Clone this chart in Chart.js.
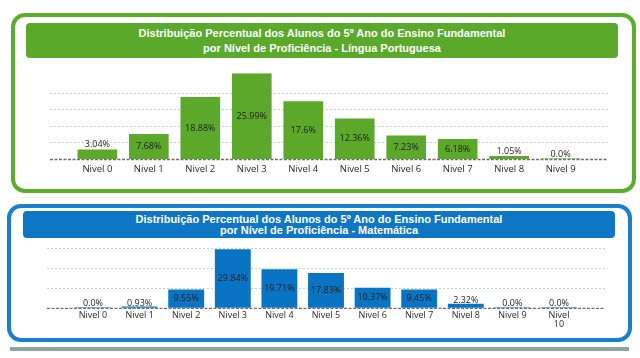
<!DOCTYPE html>
<html>
<head>
<meta charset="utf-8">
<script src="https://cdn.jsdelivr.net/npm/chart.js@4.4.0/dist/chart.umd.min.js"></script>
<style>
  html, body { margin:0; padding:0; background:#fff; }
  body { width:640px; height:358px; position:relative; overflow:hidden; }
  .box { position:absolute; box-sizing:border-box; border-radius:14px; background:#fff; }
  .banner { position:absolute; box-sizing:border-box; border-radius:4px; color:#fff;
            font-family:"Liberation Sans", Arial, sans-serif; font-weight:bold; font-size:11px;
            text-align:center; display:flex; flex-direction:column; justify-content:center; }
  canvas { position:absolute; left:0; }
</style>
</head>
<body>
<div class="box" style="left:11px;top:13px;width:625px;height:180px;border:4.5px solid #5dad2d;"></div>
<div class="banner" style="left:26px;top:23px;width:592px;height:35px;background:#5ba92b;line-height:15px;">
  <div>Distribuição Percentual dos Alunos do 5º Ano do Ensino Fundamental</div>
  <div>por Nível de Proficiência - Língua Portuguesa</div>
</div>
<div style="position:absolute;left:20px;top:197px;width:600px;height:0;border-top:1px dotted #dfe6ea;"></div>
<div class="box" style="left:7px;top:204px;width:625px;height:138px;border:4.5px solid #1a7fcf;"></div>
<div class="banner" style="left:23px;top:211px;width:592px;height:27px;background:#0f76c6;line-height:11px;">
  <div>Distribuição Percentual dos Alunos do 5º Ano do Ensino Fundamental</div>
  <div>por Nível de Proficiência - Matemática</div>
</div>
<div style="position:absolute;left:10px;top:347px;width:619px;height:4px;background:#8fa4a4;"></div>

<canvas id="c1" width="640" height="190" style="top:0px;"></canvas>
<canvas id="c2" width="640" height="147" style="top:195px;"></canvas>

<script>
// ---- Data ----
const portCategories = ["Nivel 0","Nivel 1","Nivel 2","Nivel 3","Nivel 4","Nivel 5","Nivel 6","Nivel 7","Nivel 8","Nivel 9"];
const portValues = [3.04, 7.68, 18.88, 25.99, 17.6, 12.36, 7.23, 6.18, 1.05, 0.0];

const matCategories = ["Nivel 0","Nivel 1","Nivel 2","Nivel 3","Nivel 4","Nivel 5","Nivel 6","Nivel 7","Nivel 8","Nivel 9",["Nivel","10"]];
const matValues = [0.0, 0.93, 9.55, 29.84, 19.71, 17.83, 10.37, 9.45, 2.32, 0.0, 0.0];

const portGridStep = 5;
const matGridStep = 10;

function fmt(v) { return Number.isInteger(v) ? v.toFixed(1) + "%" : String(v) + "%"; }

function makeChart(id, cats, vals, opt) {
  const labelsPlugin = {
    id: 'valueLabels',
    beforeDatasetsDraw(chart) {
      const ctx = chart.ctx, y = chart.scales.y, a = chart.chartArea;
      const py = y.getPixelForValue(0);
      ctx.save();
      ctx.strokeStyle = '#6f6f6f';
      ctx.lineWidth = 1.3;
      ctx.setLineDash([3, 1.5]);
      ctx.beginPath();
      ctx.moveTo(a.left, py); ctx.lineTo(a.right, py);
      ctx.stroke();
      ctx.restore();
    },
    afterDatasetsDraw(chart) {
      const ctx = chart.ctx;
      const meta = chart.getDatasetMeta(0);
      ctx.save();
      ctx.font = opt.labelFont;
      ctx.fillStyle = '#1e1e1e';
      ctx.textAlign = 'center';
      meta.data.forEach((bar, i) => {
        const h = bar.base - bar.y;
        const t = fmt(vals[i]);
        if (h > 14) {
          ctx.textBaseline = 'middle';
          ctx.fillText(t, bar.x, (bar.y + bar.base) / 2);
        } else {
          ctx.textBaseline = 'bottom';
          ctx.fillText(t, bar.x, bar.y + opt.aboveShift);
        }
      });
      ctx.restore();
    }
  };
  return new Chart(document.getElementById(id), {
    type: 'bar',
    data: {
      datasets: [{
        data: vals.map((v, i) => ({ x: i, y: v })),
        backgroundColor: opt.color,
        borderWidth: 0,
        minBarLength: 1,
        barPercentage: 0.77,
        categoryPercentage: 1
      }]
    },
    options: {
      responsive: false,
      animation: false,
      layout: { padding: { top: opt.padTop, left: opt.left, right: 640 - opt.right, bottom: 0 } },
      plugins: { legend: { display: false }, tooltip: { enabled: false } },
      scales: {
        x: {
          type: 'linear',
          offset: false,
          min: -0.5 - opt.pad,
          max: cats.length - 0.5 + opt.pad,
          afterBuildTicks: s => { s.ticks = cats.map((c, i) => ({ value: i })); },
          afterFit: s => { s.height = opt.xHeight; },
          grid: { display: false, drawTicks: false, offset: false },
          border: { display: false },
          ticks: {
            autoSkip: false, maxRotation: 0, padding: opt.tickPad,
            color: '#2a2a2a',
            font: { family: 'Open Sans', size: opt.tickSize, lineHeight: opt.tickLH },
            callback: v => cats[v]
          }
        },
        y: {
          min: 0,
          max: opt.max,
          afterBuildTicks: s => { s.ticks = s.ticks.filter(t => t.value % opt.step === 0); },
          afterFit: s => { s.width = 0; },
          ticks: { display: false, stepSize: opt.step },
          grid: {
            drawTicks: false,
            color: c => (c.tick && c.tick.value === 0) ? 'rgba(0,0,0,0)' : '#c3cfd4',
            lineWidth: 1
          },
          border: { display: false, dash: [2, 2] }
        }
      }
    },
    plugins: [labelsPlugin]
  });
}

makeChart('c1', portCategories, portValues, {
  color: '#5ba82a', max: 26, step: portGridStep, pad: 0.42,
  left: 50, right: 608, padTop: 73.3, xHeight: 30.5,
  tickPad: 4, tickSize: 9.5, tickLH: 1.2,
  labelFont: '9px "Open Sans"', aboveShift: 0
});

makeChart('c2', matCategories, matValues, {
  color: '#0a74c4', max: 30, step: matGridStep, pad: 0.487,
  left: 47, right: 605, padTop: 53.9, xHeight: 33.7,
  tickPad: 3, tickSize: 9, tickLH: 0.95,
  labelFont: '9px "Open Sans"', aboveShift: 1
});
</script>
</body>
</html>
